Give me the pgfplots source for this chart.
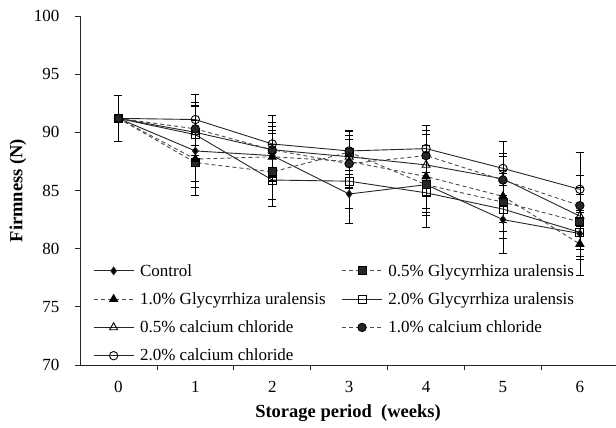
\documentclass[border=0pt]{standalone}
\usepackage{fontspec}
\setmainfont{Liberation Serif}
\usepackage{pgfplots}
\pgfplotsset{compat=1.18}
\pgfplotsset{
  solidline/.style={black!85, line width=0.9bp, solid},
  dashline/.style={black!70, line width=0.9bp, dash pattern=on 4bp off 3bp},
  eb/.style={error bars/.cd, y dir=both, y explicit,
    error bar style={line width=0.7bp, black, solid},
    error mark options={rotate=90, mark size=4bp, line width=0.7bp, black, solid}},
}
\begin{document}
\begin{tikzpicture}
\begin{axis}[
  scale only axis, width=536bp, height=349bp,
  xmin=-0.5, xmax=6.47, ymin=70, ymax=100,
  axis lines=left,
  axis line style={-, black!85, line width=0.8bp},
  xtick={0,...,6},
  minor xtick={0.5,1.5,2.5,3.5,4.5,5.5},
  ytick={70,75,...,100},
  tick align=outside,
  major tick length=5bp, minor tick length=5bp,
  major x tick style={draw=none},
  tick style={black!85, line width=0.8bp},
  ticklabel style={font=\fontsize{17bp}{20bp}\selectfont},
  xticklabel style={yshift=-8bp},
  yticklabel style={xshift=-12bp},
  /pgf/number format/assume math mode=true,
  xlabel={Storage period\ \ (weeks)},
  ylabel={Firmness (N)},
  every axis x label/.style={at={(axis description cs:0.5,-0.1375)}, anchor=center,
    font=\bfseries\fontsize{18.5bp}{22bp}\selectfont},
  every axis y label/.style={at={(axis description cs:-0.1157,0.5)}, anchor=center, rotate=90,
    font=\bfseries\fontsize{18.5bp}{22bp}\selectfont},
  legend columns=2,
  legend cell align=left,
  legend image code/.code={\draw[mark repeat=2, mark phase=2, #1] plot coordinates {(0bp,0bp) (20bp,0bp) (40bp,0bp)};},
  legend style={draw=none, fill=none, at={(axis cs:-0.331,78.85)}, anchor=north west,
    font=\fontsize{17bp}{20bp}\selectfont, row sep=11bp, inner sep=0pt,
    /tikz/every even column/.append style={column sep=14bp},
    /tikz/every odd column/.append style={column sep=4bp}},
]
\coordinate (SW) at (rel axis cs:0,0);
\coordinate (NE) at (rel axis cs:1,1);
% Control
\addplot[solidline, mark=diamond*, mark size=3.8bp, mark options={solid, fill=black}, eb]
table[x=x, y=y, y error=e] {
x y e
0 91.2 2.0
1 88.4 2.6
2 88.0 2.2
3 84.7 2.5
4 85.5 2.4
5 82.5 2.9
6 81.3 2.0
};
\addlegendentry{Control}
% 0.5% GU
\addplot[dashline, mark=square*, mark size=4bp, mark options={solid, fill=black!85, draw=black}, eb]
table[x=x, y=y, y error=e] {
x y e
0 91.2 2.0
1 87.4 2.8
2 86.6 2.4
3 88.3 1.9
4 85.5 2.6
5 84.0 2.5
6 82.3 2.4
};
\addlegendentry{0.5\% Glycyrrhiza uralensis}
% 1.0% GU
\addplot[dashline, mark=triangle*, mark size=4.6bp, mark options={solid, fill=black, draw=black}, eb]
table[x=x, y=y, y error=e] {
x y e
0 91.2 2.0
1 87.7 2.4
2 87.9 2.0
3 87.5 2.2
4 86.2 2.7
5 84.5 2.2
6 80.4 2.7
};
\addlegendentry{1.0\% Glycyrrhiza uralensis}
% 2.0% GU
\addplot[solidline, mark=square, mark size=4bp, mark options={solid, fill=white, draw=black}, eb]
table[x=x, y=y, y error=e] {
x y e
0 91.2 2.0
1 89.8 2.5
2 85.9 2.3
3 85.8 2.3
4 84.8 3.0
5 83.4 2.5
6 81.4 2.3
};
\addlegendentry{2.0\% Glycyrrhiza uralensis}
% 0.5% CaCl2
\addplot[solidline, mark=triangle, mark size=4.6bp, mark options={solid, fill=white, draw=black}, eb]
table[x=x, y=y, y error=e] {
x y e
0 91.2 2.0
1 90.0 2.2
2 88.5 2.0
3 87.9 1.8
4 87.2 2.6
5 86.0 2.2
6 82.8 2.5
};
\addlegendentry{0.5\% calcium chloride}
% 1.0% CaCl2
\addplot[dashline, mark=*, mark size=4.2bp, mark options={solid, fill=black!85, draw=black}, eb]
table[x=x, y=y, y error=e] {
x y e
0 91.2 2.0
1 90.3 2.3
2 88.5 2.4
3 87.3 2.1
4 88.0 2.2
5 85.9 2.0
6 83.7 2.6
};
\addlegendentry{1.0\% calcium chloride}
% 2.0% CaCl2
\addplot[solidline, mark=o, mark size=4.2bp, mark options={solid, fill=white, draw=black}, eb]
table[x=x, y=y, y error=e] {
x y e
0 91.2 2.0
1 91.1 2.2
2 89.0 2.5
3 88.4 1.7
4 88.6 2.0
5 86.9 2.3
6 85.1 3.2
};
\addlegendentry{2.0\% calcium chloride}
\end{axis}
\pgfresetboundingbox
\path ([xshift=-80bp,yshift=-63bp]SW) rectangle ([yshift=16bp]NE);
\end{tikzpicture}
\end{document}
